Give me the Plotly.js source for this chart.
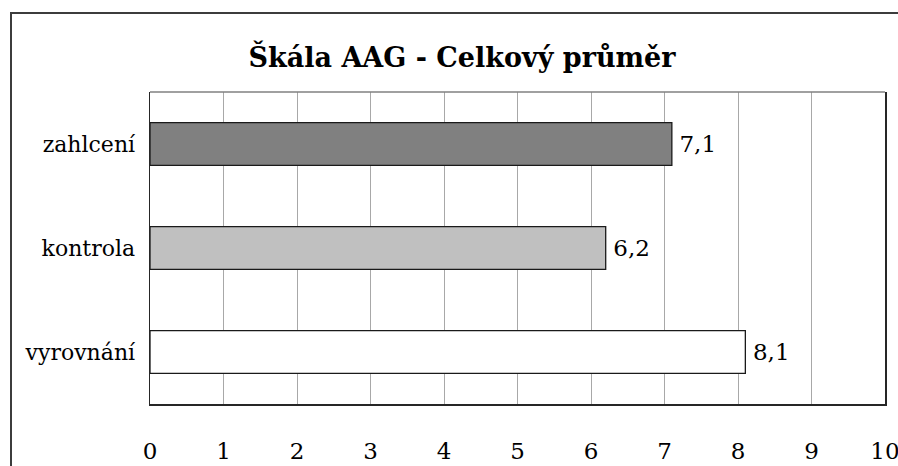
<!DOCTYPE html>
<html>
<head>
<meta charset="utf-8">
<script src="https://cdn.plot.ly/plotly-3.0.1.min.js"></script>
<style>
  html, body { margin: 0; padding: 0; background: #ffffff; overflow: hidden; }
  #frame { position: absolute; left: 10px; top: 12px; width: 1200px; height: 1200px;
           border-left: 2px solid #3c3c3c; border-top: 2px solid #3c3c3c; }
  #chart { position: absolute; left: 0; top: 0; width: 898px; height: 466px; }
</style>
</head>
<body>
<div id="frame"></div>
<div id="chart"></div>
<script>
// Data
var categories = ["zahlcení", "kontrola", "vyrovnání"];
var values = [7.1, 6.2, 8.1];
var barColors = ["#808080", "#c0c0c0", "#ffffff"];
var xTicks = [0, 1, 2, 3, 4, 5, 6, 7, 8, 9, 10];
var chartTitle = "Škála AAG - Celkový průměr";

var fontFamily = "'DejaVu Serif', serif";

var trace = {
  type: "bar",
  orientation: "h",
  y: categories,
  x: values,
  marker: { color: barColors, line: { color: "#1a1a1a", width: 1.3 } },
  width: 0.41,
  text: values,
  texttemplate: "\u2009%{x:.1f}",
  textposition: "outside",
  textfont: { family: fontFamily, size: 23, color: "#000000" },
  cliponaxis: false,
  hoverinfo: "none"
};

var layout = {
  width: 898,
  height: 466,
  margin: { l: 150, r: 13, t: 92, b: 62, pad: 0 },
  paper_bgcolor: "rgba(0,0,0,0)",
  plot_bgcolor: "#ffffff",
  separators: ", ",
  showlegend: false,
  title: {
    text: "<b>" + chartTitle + "</b>",
    font: { family: fontFamily, size: 27, color: "#000000" },
    x: 0.5145, xanchor: "center", xref: "container",
    y: 0.877, yanchor: "middle", yref: "container"
  },
  xaxis: {
    range: [0, 10],
    tickvals: xTicks,
    ticktext: xTicks.map(String),
    showgrid: true,
    gridcolor: "#a8a8a8",
    gridwidth: 1,
    zeroline: false,
    showline: true,
    linecolor: "#262626",
    linewidth: 1.5,
    ticks: "",
    ticklabelstandoff: 26,
    ticklabeloverflow: "allow",
    tickfont: { family: fontFamily, size: 23, color: "#000000" },
    fixedrange: true
  },
  yaxis: {
    autorange: "reversed",
    showgrid: false,
    zeroline: false,
    showline: true,
    mirror: true,
    linecolor: "#262626",
    linewidth: 1.5,
    ticks: "",
    ticklabelstandoff: 9,
    tickfont: { family: fontFamily, size: 22, color: "#000000" },
    fixedrange: true
  },
  shapes: [{
    type: "line", xref: "paper", yref: "paper",
    x0: 0, x1: 1, y0: 1, y1: 1,
    line: { color: "#808080", width: 1.5 }
  }]
};

Plotly.newPlot("chart", [trace], layout, { staticPlot: true, displayModeBar: false });
</script>
</body>
</html>
